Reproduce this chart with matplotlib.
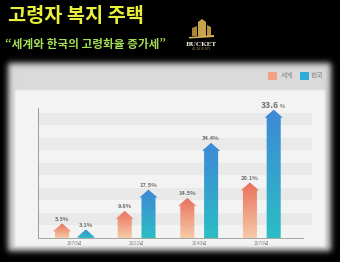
import numpy as np
import matplotlib
matplotlib.use("Agg")
import matplotlib.pyplot as plt
from matplotlib.patches import Polygon, Rectangle
from matplotlib.colors import LinearSegmentedColormap

plt.rcParams['font.family'] = ['Noto Sans CJK KR', 'DejaVu Sans']

# ---- data ----
years = ["1970년", "2022년", "2040년", "2070년"]
series_names = ["세계", "한국"]
world = [5.3, 9.8, 14.5, 20.1]
korea = [3.1, 17.5, 34.4, 46.4]          # bar heights as drawn
world_labels = ["5.3%", "9.8%", "14.5%", "20.1%"]
korea_labels = ["3.1%", "17.5%", "34.4%", "33.6"]

title = "고령자 복지 주택"
subtitle = "“세계와 한국의 고령화율 증가세”"

W, H = 340, 262
fig = plt.figure(figsize=(W / 100, H / 100), dpi=100)
fig.patch.set_facecolor("black")

# ---- background panel with soft edges ----
def blur(a, s):
    r = int(3 * s)
    k = np.exp(-0.5 * (np.arange(-r, r + 1) / s) ** 2)
    k /= k.sum()
    a = np.apply_along_axis(lambda m: np.convolve(m, k, mode="same"), 0, a)
    a = np.apply_along_axis(lambda m: np.convolve(m, k, mode="same"), 1, a)
    return a

outer = np.zeros((H, W))
outer[63:251, 8:331] = 1
outer = blur(outer, 3.0)
inner = np.zeros((H, W))
inner[90:247, 15:325] = 1
inner = blur(inner, 0.8)
lum = outer * 0.855 + inner * 0.10
img = np.dstack([lum, lum, lum])
img = np.clip(img, 0, 1)

bg = fig.add_axes([0, 0, 1, 1])
bg.imshow(img, extent=[0, W, H, 0], aspect="auto", interpolation="bilinear", zorder=0)
bg.set_xlim(0, W)
bg.set_ylim(H, 0)
bg.axis("off")

# title and subtitle
bg.text(8, 16.5, title, color="#e8f03c", fontsize=14.2, fontweight="bold",
        va="center", ha="left")
bg.text(5, 44, subtitle, color="#a4df5a", fontsize=8.4, fontweight="bold",
        va="center", ha="left")

# logo
gold = "#c9a24c"
bg.add_patch(Polygon([[198, 36], [198, 22], [202, 19], [206, 22], [206, 36]], closed=True,
                     facecolor=gold, edgecolor="none"))
bg.add_patch(Polygon([[192, 36], [192, 28], [197, 26], [197, 36]], closed=True,
                     facecolor="#a88436", edgecolor="none"))
bg.add_patch(Polygon([[207, 36], [207, 25], [211, 27], [211, 36]], closed=True,
                     facecolor="#b8923e", edgecolor="none"))
bg.add_patch(Polygon([[189, 37], [214, 35], [214, 37], [189, 38.5]], closed=True,
                     facecolor="#d9b45a", edgecolor="none"))
bg.text(201, 44, "BUCKET", color="#e8e2d0", fontsize=4.6, family="DejaVu Serif",
        fontweight="bold", ha="center", va="center")
bg.text(201, 49.5, "ACADEMY", color="#8a7a55", fontsize=2.6, family="DejaVu Serif",
        ha="center", va="center")

# legend
bg.add_patch(Rectangle((268, 72), 9, 8, facecolor="#f0a283", edgecolor="none"))
bg.text(281, 76, series_names[0], color="#8a8a8a", fontsize=5, va="center", ha="left")
bg.add_patch(Rectangle((300, 72), 9, 8, facecolor="#2cacd6", edgecolor="none"))
bg.text(311, 76, series_names[1], color="#8a8a8a", fontsize=5, va="center", ha="left")

# ---- chart axes ----
ax = fig.add_axes([38 / W, 24 / H, 265 / W, 130 / H])
ax.patch.set_alpha(0)
YMAX = 47
ax.set_ylim(0, YMAX)
ax.set_xlim(-0.575, 3.658)

# alternating bands
period = 25 / 130 * YMAX
start = 13 / 130 * YMAX
for k in range(5):
    y0 = start + k * period
    r = ax.axhspan(y0, y0 + period / 2, xmin=0, xmax=1.035, facecolor="#e9e9e9",
                   edgecolor="none", zorder=0)
    r.set_clip_on(False)

orange_cmap = LinearSegmentedColormap.from_list("o", ["#f6caa6", "#e9705c"])
blue_cmap = LinearSegmentedColormap.from_list("b", ["#2cbdc4", "#3e88d6"])

bw, hw, hl = 0.224, 0.29, 2.9
grad = np.linspace(0, 1, 100).reshape(-1, 1)

def arrow(x, v, cmap):
    hlv = min(hl, v)
    pts = [[x - bw / 2, 0], [x - bw / 2, v - hlv], [x - hw / 2, v - hlv], [x, v],
           [x + hw / 2, v - hlv], [x + bw / 2, v - hlv], [x + bw / 2, 0]]
    poly = Polygon(pts, closed=True, facecolor="none", edgecolor="none")
    ax.add_patch(poly)
    im = ax.imshow(grad, cmap=cmap, origin="lower", aspect="auto",
                   extent=[x - hw / 2, x + hw / 2, 0, v], zorder=2)
    im.set_clip_path(poly)

off = 0.19
for i in range(len(years)):
    arrow(i - off, world[i], orange_cmap)
    arrow(i + off, korea[i], blue_cmap)
    ax.annotate(world_labels[i], (i - off, world[i]), xytext=(0, 3), textcoords="offset points",
                ha="center", va="center", fontsize=4.2, color="#707070", fontweight="bold")
    if i < len(years) - 1:
        ax.annotate(korea_labels[i], (i + off, korea[i]), xytext=(0, 3), textcoords="offset points",
                    ha="center", va="center", fontsize=4.2, color="#707070", fontweight="bold")
    else:
        ax.annotate(korea_labels[i], (i + off, korea[i]), xytext=(4, 3), textcoords="offset points",
                    ha="right", va="center", fontsize=6.2, color="#707070", fontweight="bold")
        ax.annotate("%", (i + off, korea[i]), xytext=(4.5, 2.6), textcoords="offset points",
                    ha="left", va="center", fontsize=3.8, color="#707070", fontweight="bold")

ax.set_xticks(range(len(years)))
ax.set_xticklabels(years, fontsize=3.6, color="#8a8a8a")
ax.tick_params(axis="x", length=0, pad=2.5)
ax.set_yticks([])
for s in ["top", "right"]:
    ax.spines[s].set_visible(False)
ax.spines["left"].set_color("#8c8c8c")
ax.spines["left"].set_linewidth(0.6)
ax.spines["bottom"].set_color("#9a9a9a")
ax.spines["bottom"].set_linewidth(0.6)

fig.savefig("out.png", dpi=100, facecolor="black")
